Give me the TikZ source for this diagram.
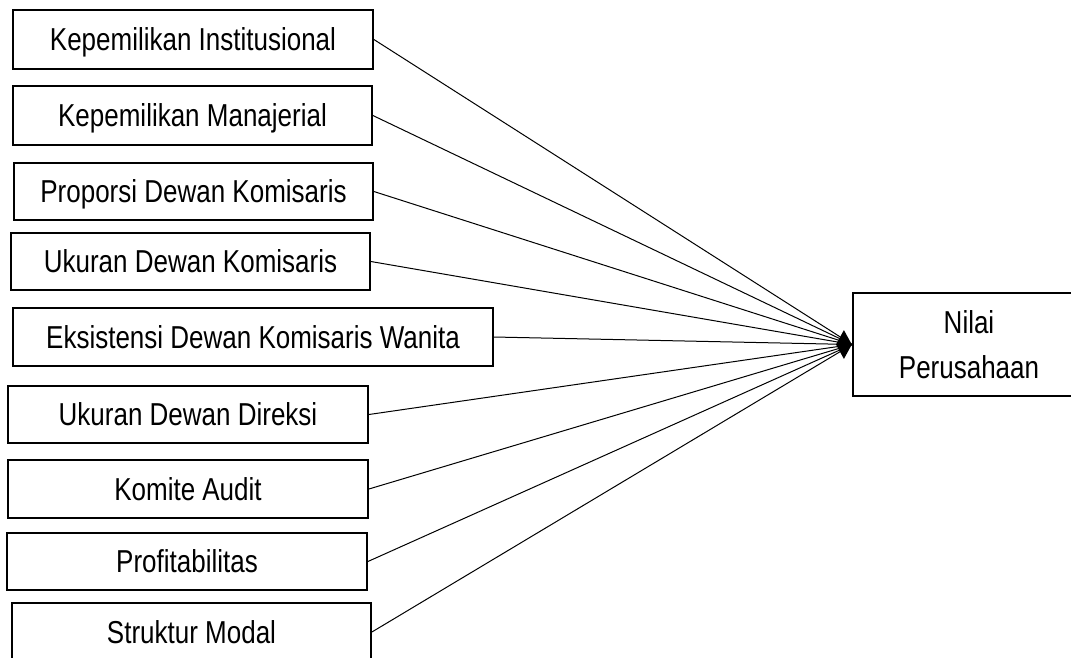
\documentclass[tikz,border=0pt]{standalone}
\usepackage{fontspec}
\setmainfont{Liberation Sans}[FakeStretch=0.82]
\usepackage{tikz}
\usetikzlibrary{shapes.geometric}

\tikzset{
  varbox/.style={draw, line width=1.8pt, inner sep=0pt, text height=22.7pt, text depth=0pt},
  link/.style={line width=1pt},
}

\begin{document}
\begin{tikzpicture}[x=1pt, y=-1pt, font=\fontsize{31.7}{45}\selectfont]
    \useasboundingbox (0, 0) rectangle (1071, 657);

    \node[varbox, minimum width=360pt, minimum height=59pt] (ki) at (193, 39.5) {Kepemilikan Institusional};
    \node[varbox, minimum width=359pt, minimum height=59pt] (km) at (192.5, 115.5) {Kepemilikan Manajerial};
    \node[varbox, minimum width=359pt, minimum height=57pt] (pdk) at (193.5, 191.5) {Proporsi Dewan Komisaris};
    \node[varbox, minimum width=359pt, minimum height=57pt] (udk) at (190.5, 261.5) {Ukuran Dewan Komisaris};
    \node[varbox, minimum width=480pt, minimum height=58pt] (edkw) at (253, 337) {Eksistensi Dewan Komisaris Wanita};
    \node[varbox, minimum width=360pt, minimum height=57pt] (udd) at (188, 414.5) {Ukuran Dewan Direksi};
    \node[varbox, minimum width=360pt, minimum height=58pt] (ka) at (188, 489) {Komite Audit};
    \node[varbox, minimum width=360pt, minimum height=57pt] (prof) at (187, 561.5) {Profitabilitas};
    \node[varbox, minimum width=359pt, minimum height=58pt] (sm) at (191.5, 632) {Struktur Modal};

    \node[draw, line width=1.8pt, minimum width=232pt, minimum height=103pt, align=center] (nilai) at (969, 344.5) {Nilai\\Perusahaan};

    \foreach \v in {ki, km, pdk, udk, edkw, udd, ka, prof, sm}
      \draw[link] (\v.east) -- (nilai.west);

    \node[diamond, fill=black, inner sep=0pt, minimum width=16pt, minimum height=29pt, anchor=east] (tip) at (nilai.west) {};

  \end{tikzpicture}
\end{document}
